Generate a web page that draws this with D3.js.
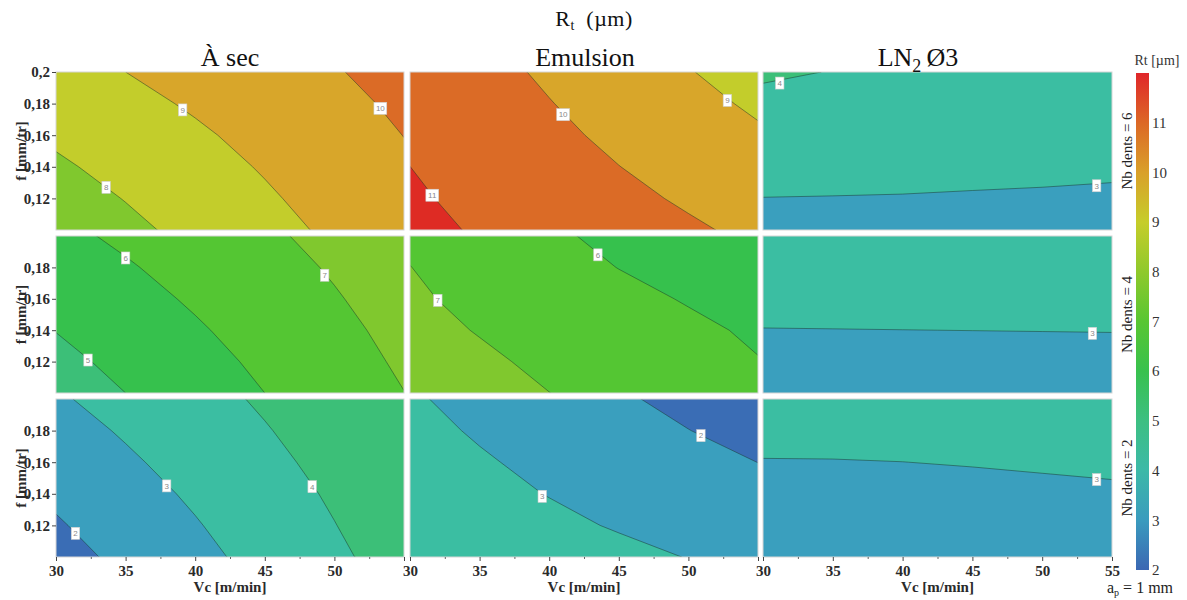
<!DOCTYPE html>
<html><head><meta charset="utf-8">
<script src="https://cdn.jsdelivr.net/npm/d3@7"></script>
<style>
body{margin:0;background:#fff}
svg{display:block}
text{font-family:"Liberation Serif","Times New Roman",serif}
</style>
</head><body>
<svg id="chart" width="1187" height="600"></svg>
<script>
// ---------- data ----------
const vcValues = [30, 35, 40, 45, 50, 55];
const fValues = [0.10, 0.12, 0.14, 0.16, 0.18, 0.20];
const columnTitles = ["À sec", "Emulsion", "LN2 Ø3"];
const rowTitles = ["Nb dents = 6", "Nb dents = 4", "Nb dents = 2"];
const contourLevels = [1, 2, 3, 4, 5, 6, 7, 8, 9, 10, 11, 12];
const xMajorTicks = [30, 35, 40, 45, 50, 55];
const xMinorTicks = [32.5, 37.5, 42.5, 47.5, 52.5];
const yTicksTop = [0.12, 0.14, 0.16, 0.18, 0.20];
const yTicks = [0.12, 0.14, 0.16, 0.18];
const colorbarTicks = [2, 3, 4, 5, 6, 7, 8, 9, 10, 11];

// Rt grids: rows = fValues (0.10 -> 0.20), columns = vcValues (30 -> 55)
const rtSec6 = [
  [7.33, 7.79, 8.25, 8.70, 9.16, 9.62],
  [7.60, 8.03, 8.46, 8.89, 9.32, 9.75],
  [7.87, 8.27, 8.67, 9.07, 9.47, 9.88],
  [8.14, 8.51, 8.88, 9.25, 9.63, 10.01],
  [8.41, 8.76, 9.10, 9.44, 9.79, 10.14],
  [8.68, 9.00, 9.32, 9.63, 9.95, 10.27]];
const rtEmu6 = [
  [11.21, 10.93, 10.66, 10.38, 10.11, 9.83],
  [11.11, 10.80, 10.50, 10.19, 9.90, 9.59],
  [11.002, 10.67, 10.34, 10.01, 9.68, 9.35],
  [10.90, 10.54, 10.19, 9.82, 9.47, 9.11],
  [10.79, 10.41, 10.03, 9.64, 9.25, 8.87],
  [10.69, 10.28, 9.87, 9.45, 9.04, 8.63]];
const rtLn6 = [
  [2.71, 2.73, 2.74, 2.76, 2.77, 2.79],
  [2.99, 2.98, 2.97, 2.95, 2.94, 2.93],
  [3.27, 3.23, 3.19, 3.15, 3.11, 3.07],
  [3.54, 3.48, 3.41, 3.35, 3.28, 3.22],
  [3.82, 3.73, 3.64, 3.54, 3.45, 3.36],
  [4.10, 3.98, 3.86, 3.74, 3.62, 3.50]];
const rtSec4 = [
  [4.50, 5.00, 5.50, 6.00, 6.50, 6.99],
  [4.76, 5.23, 5.70, 6.17, 6.65, 7.12],
  [5.02, 5.46, 5.90, 6.35, 6.79, 7.24],
  [5.27, 5.69, 6.11, 6.52, 6.94, 7.35],
  [5.53, 5.92, 6.31, 6.70, 7.08, 7.47],
  [5.79, 6.15, 6.51, 6.87, 7.23, 7.59]];
const rtEmu4 = [
  [7.505, 7.255, 7.005, 6.755, 6.505, 6.24],
  [7.38, 7.12, 6.86, 6.60, 6.33, 6.03],
  [7.224, 6.964, 6.703, 6.443, 6.17, 5.88],
  [7.111, 6.819, 6.526, 6.234, 5.94, 5.65],
  [7.01, 6.662, 6.324, 5.986, 5.65, 5.31],
  [6.857, 6.50, 6.143, 5.786, 5.43, 5.07]];
const rtLn4 = [
  [2.710, 2.714, 2.718, 2.722, 2.726, 2.730],
  [2.850, 2.854, 2.858, 2.862, 2.866, 2.870],
  [2.990, 2.994, 2.998, 3.002, 3.006, 3.010],
  [3.130, 3.134, 3.138, 3.142, 3.146, 3.150],
  [3.270, 3.274, 3.278, 3.282, 3.286, 3.290],
  [3.410, 3.414, 3.418, 3.422, 3.426, 3.430]];
const rtSec2 = [
  [1.66, 2.21, 2.75, 3.30, 3.84, 4.39],
  [1.91, 2.43, 2.94, 3.46, 3.98, 4.50],
  [2.16, 2.65, 3.13, 3.62, 4.11, 4.60],
  [2.40, 2.87, 3.33, 3.79, 4.25, 4.71],
  [2.65, 3.09, 3.52, 3.95, 4.38, 4.81],
  [2.90, 3.31, 3.71, 4.11, 4.52, 4.92]];
const rtEmu2 = [
  [3.878, 3.653, 3.428, 3.203, 2.978, 2.753],
  [3.642, 3.407, 3.172, 2.937, 2.702, 2.467],
  [3.475, 3.225, 2.975, 2.725, 2.475, 2.225],
  [3.351, 3.081, 2.811, 2.541, 2.270, 1.995],
  [3.224, 2.921, 2.618, 2.315, 2.012, 1.709],
  [3.092, 2.763, 2.434, 2.105, 1.776, 1.447]];
const rtLn2 = [
  [2.563, 2.566, 2.580, 2.601, 2.629, 2.657],
  [2.703, 2.706, 2.720, 2.741, 2.769, 2.797],
  [2.843, 2.846, 2.860, 2.881, 2.909, 2.937],
  [2.983, 2.986, 2.998, 3.021, 3.049, 3.077],
  [3.123, 3.126, 3.140, 3.161, 3.189, 3.217],
  [3.263, 3.266, 3.280, 3.301, 3.329, 3.357]];

// contour labels: [Vc, f, level]
const lblSec6 = [[39.1, 0.176, 9], [53.3, 0.177, 10], [33.6, 0.127, 8]];
const lblEmu6 = [[41.0, 0.173, 10], [52.8, 0.182, 9], [31.6, 0.122, 11]];
const lblLn6  = [[31.2, 0.193, 4], [53.9, 0.128, 3]];
const lblSec4 = [[35.0, 0.186, 6], [49.3, 0.175, 7], [32.3, 0.121, 5]];
const lblEmu4 = [[43.5, 0.188, 6], [32.0, 0.159, 7]];
const lblLn4  = [[53.6, 0.138, 3]];
const lblSec2 = [[31.4, 0.115, 2], [37.95, 0.145, 3], [48.4, 0.1445, 4]];
const lblEmu2 = [[50.9, 0.1768, 2], [39.5, 0.1384, 3]];
const lblLn2  = [[53.9, 0.149, 3]];

const grids = [[rtSec6, rtEmu6, rtLn6], [rtSec4, rtEmu4, rtLn4], [rtSec2, rtEmu2, rtLn2]];
const labelSets = [[lblSec6, lblEmu6, lblLn6], [lblSec4, lblEmu4, lblLn4], [lblSec2, lblEmu2, lblLn2]];

// ---------- styles ----------
const bandColors = {1:"#3a6db5",2:"#3a9fbe",3:"#3bbea2",4:"#3cbf78",5:"#36c14d",6:"#54c633",
  7:"#80c82e",8:"#c3cd2b",9:"#d8a62a",10:"#db6b26",11:"#de2b24",12:"#de2b24"};
const cbStops = [[2,"#3b67b3"],[3,"#3a9bbe"],[4,"#3cb9a8"],[5,"#3dbf82"],[6,"#38c14e"],[7,"#58c632"],
  [8,"#8fc92c"],[9,"#c6cd2a"],[10,"#d9a02a"],[11,"#dc6826"],[12,"#e0262a"]];

const colX = [56, 410, 763], colW = [348, 348, 349];
const rowY = [72, 236, 399], rowH = [158, 157, 158];

const svg = d3.select("#chart");
const defs = svg.append("defs");

const gridVc = d3.scaleLinear().domain([0.5, 5.5]).range([vcValues[0], vcValues[5]]);
const gridF = d3.scaleLinear().domain([0.5, 5.5]).range([fValues[0], fValues[5]]);

for (let r = 0; r < 3; r++) {
  for (let c = 0; c < 3; c++) {
    const x0 = colX[c], w = colW[c], y0 = rowY[r], h = rowH[r];
    const xs = d3.scaleLinear().domain([30, 55]).range([x0, x0 + w]);
    const ys = d3.scaleLinear().domain([0.10, 0.20]).range([y0 + h, y0]);
    const id = `clip${r}${c}`;
    defs.append("clipPath").attr("id", id).append("rect")
      .attr("x", x0).attr("y", y0).attr("width", w).attr("height", h);
    const g = svg.append("g").attr("clip-path", `url(#${id})`);
    const values = grids[r][c].flat();
    const contours = d3.contours().size([6, 6]).thresholds(contourLevels)(values);
    const proj = d3.geoTransform({point: function(x, y) {
      this.stream.point(xs(gridVc(x)), ys(gridF(y)));
    }});
    const path = d3.geoPath(proj);
    g.selectAll("path.band").data(contours).join("path").attr("class", "band")
      .attr("d", path).attr("fill", d => bandColors[d.value]).attr("stroke", "none");
    g.selectAll("path.line").data(contours).join("path").attr("class", "line")
      .attr("d", path).attr("fill", "none")
      .attr("stroke", "rgba(25,50,40,0.6)").attr("stroke-width", 0.8);
    // labels
    const lg = g.selectAll("g.lbl").data(labelSets[r][c]).join("g").attr("class", "lbl")
      .attr("transform", d => `translate(${xs(d[0])},${ys(d[1])})`);
    lg.append("rect").attr("x", d => -(String(d[2]).length * 4.4 + 4) / 2).attr("y", -6)
      .attr("width", d => String(d[2]).length * 4.4 + 4).attr("height", 12)
      .attr("fill", "#fff").attr("stroke", "#cfcfcf").attr("stroke-width", 0.6);
    lg.append("text").attr("text-anchor", "middle").attr("dy", "0.35em")
      .style("font-family", "'Liberation Sans',Arial,sans-serif").style("font-size", "8px")
      .attr("fill", "#8a8a8a").text(d => d[2]);
    // border
    svg.append("rect").attr("x", x0).attr("y", y0).attr("width", w).attr("height", h)
      .attr("fill", "none").attr("stroke", "#d6d6d6").attr("stroke-width", 1);

    // y axis
    if (c === 0) {
      const ya = d3.axisLeft(ys).tickValues(r === 0 ? yTicksTop : yTicks).tickSize(4).tickPadding(2)
        .tickFormat(d => String(+d.toFixed(2)).replace(".", ","));
      const yg = svg.append("g").attr("transform", `translate(${x0},0)`).call(ya);
      yg.select(".domain").remove();
      yg.selectAll("line").attr("stroke", "#444");
      yg.selectAll("text").style("font-family", "'Liberation Serif',serif").style("font-size", "15px")
        .style("font-weight", "bold").attr("fill", "#2a2a2a");
      svg.append("text").attr("transform", `translate(26,${y0 + h / 2}) rotate(-90)`)
        .attr("text-anchor", "middle").style("font-size", "15px").style("font-weight", "bold")
        .attr("fill", "#2a2a2a").text("f [mm/tr]");
    }
    // x axis
    if (r === 2) {
      const xa = d3.axisBottom(xs).tickValues(xMajorTicks).tickSize(4).tickPadding(4)
        .tickFormat(d => (c < 2 && d === 55) ? "" : d);
      const xg = svg.append("g").attr("transform", `translate(0,${y0 + h})`).call(xa);
      xg.select(".domain").remove();
      xg.selectAll("line").attr("stroke", "#444");
      xg.selectAll("text").style("font-family", "'Liberation Serif',serif").style("font-size", "15px")
        .style("font-weight", "bold").attr("fill", "#2a2a2a");
      const xm = d3.axisBottom(xs).tickValues(xMinorTicks).tickSize(2).tickFormat("");
      const xmg = svg.append("g").attr("transform", `translate(0,${y0 + h})`).call(xm);
      xmg.select(".domain").remove();
      xmg.selectAll("line").attr("stroke", "#666");
      svg.append("text").attr("x", x0 + w / 2).attr("y", 592).attr("text-anchor", "middle")
        .style("font-size", "15px").style("font-weight", "bold").attr("fill", "#2a2a2a").text("Vc [m/min]");
    }
  }
  // row titles
  svg.append("text").attr("transform", `translate(1132,${rowY[r] + rowH[r] / 2}) rotate(-90)`)
    .attr("text-anchor", "middle").style("font-size", "15px").attr("fill", "#222").text(rowTitles[r]);
}

// column titles
const colCenters = [230, 585, 918];
columnTitles.forEach((t, i) => {
  const tx = svg.append("text").attr("x", colCenters[i]).attr("y", 66).attr("text-anchor", "middle")
    .style("font-size", "26px").attr("fill", "#111");
  if (t.startsWith("LN2")) {
    tx.append("tspan").text("LN");
    tx.append("tspan").attr("dy", 6).style("font-size", "18px").text("2");
    tx.append("tspan").attr("dy", -6).text("\u2009Ø3");
  } else tx.text(t);
});

// main title
const mt = svg.append("text").attr("x", 594).attr("y", 26).attr("text-anchor", "middle")
  .style("font-size", "22px").style("letter-spacing", "0.5px").attr("fill", "#111");
mt.append("tspan").text("R");
mt.append("tspan").attr("dy", 4).style("font-size", "14px").text("t");
mt.append("tspan").attr("dy", -4).text("\u2002(µm)");

// colorbar
const cbScale = d3.scaleLinear().domain([2, 12]).range([570, 73]);
const grad = defs.append("linearGradient").attr("id", "cbgrad")
  .attr("x1", 0).attr("y1", 1).attr("x2", 0).attr("y2", 0);
cbStops.forEach(s => grad.append("stop").attr("offset", (s[0] - 2) / 10).attr("stop-color", s[1]));
svg.append("rect").attr("x", 1136).attr("y", cbScale(12)).attr("width", 13)
  .attr("height", cbScale(2) - cbScale(12)).attr("fill", "url(#cbgrad)");
svg.selectAll("text.cbt").data(colorbarTicks).join("text").attr("class", "cbt")
  .attr("x", 1152).attr("y", d => cbScale(d)).attr("dy", "0.35em")
  .style("font-size", "15px").attr("fill", "#333").text(d => d);
const cbt = svg.append("text").attr("x", 1157).attr("y", 65).attr("text-anchor", "middle")
  .style("font-size", "14px").attr("fill", "#333");
cbt.text("Rt [µm]");

// ap note
const ap = svg.append("text").attr("x", 1107).attr("y", 593).style("font-size", "16px").attr("fill", "#222");
ap.append("tspan").text("a");
ap.append("tspan").attr("dy", 3).style("font-size", "10px").text("p");
ap.append("tspan").attr("dy", -3).text(" = 1 mm");
</script>
</body></html>
